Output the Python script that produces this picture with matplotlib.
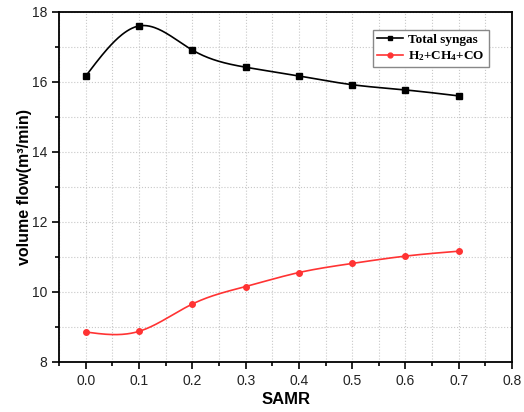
import numpy as np
import matplotlib
matplotlib.use("Agg")
import matplotlib.pyplot as plt
from matplotlib.ticker import MultipleLocator

plt.rcParams["mathtext.fontset"] = "custom"
plt.rcParams["mathtext.rm"] = "Liberation Serif:bold"
plt.rcParams["mathtext.it"] = "Liberation Serif:bold"
plt.rcParams["mathtext.bf"] = "Liberation Serif:bold"

samr = [0.0, 0.1, 0.2, 0.3, 0.4, 0.5, 0.6, 0.7]
total_syngas = [16.17, 17.60, 16.91, 16.42, 16.17, 15.92, 15.77, 15.60]
h2_ch4_co = [8.85, 8.87, 9.65, 10.15, 10.55, 10.81, 11.02, 11.16]


def smooth(x, y, n=300):
    # natural cubic spline, only for drawing the connecting line
    x = np.asarray(x, float)
    y = np.asarray(y, float)
    k = len(x)
    h = np.diff(x)
    A = np.zeros((k, k))
    b = np.zeros(k)
    A[0, 0] = A[-1, -1] = 1
    for i in range(1, k - 1):
        A[i, i - 1] = h[i - 1]
        A[i, i] = 2 * (h[i - 1] + h[i])
        A[i, i + 1] = h[i]
        b[i] = 6 * ((y[i + 1] - y[i]) / h[i] - (y[i] - y[i - 1]) / h[i - 1])
    M = np.linalg.solve(A, b)
    xs = np.linspace(x[0], x[-1], n)
    idx = np.clip(np.searchsorted(x, xs) - 1, 0, k - 2)
    x0, x1 = x[idx], x[idx + 1]
    hh = x1 - x0
    t1 = x1 - xs
    t0 = xs - x0
    ys = (M[idx] * t1 ** 3 + M[idx + 1] * t0 ** 3) / (6 * hh) \
        + (y[idx] / hh - M[idx] * hh / 6) * t1 \
        + (y[idx + 1] / hh - M[idx + 1] * hh / 6) * t0
    return xs, ys


fig = plt.figure(figsize=(5.24, 4.12), dpi=100)
ax = fig.add_axes([0.113, 0.122, 0.864, 0.849])

for yv, col, lab in [(total_syngas, "black", "Total syngas"),
                     (h2_ch4_co, "#ff3333", r"H$_2$+CH$_4$+CO")]:
    mk = "s" if col == "black" else "o"
    xs, ys = smooth(samr, yv)
    ax.plot(xs, ys, color=col, lw=1.2, zorder=3)
    ax.plot(samr, yv, ls="none", marker=mk, ms=4, color=col, zorder=4)
    ax.plot([], [], color=col, lw=1.2, marker=mk, ms=3.5, label=lab)

ax.set_xlim(-0.05, 0.8)
ax.set_ylim(8, 18)
ax.xaxis.set_major_locator(MultipleLocator(0.1))
ax.xaxis.set_minor_locator(MultipleLocator(0.05))
ax.yaxis.set_major_locator(MultipleLocator(2))
ax.yaxis.set_minor_locator(MultipleLocator(1))
ax.set_xticks(np.arange(0, 0.81, 0.1))
ax.set_xticklabels(["%.1f" % v for v in np.arange(0, 0.81, 0.1)])
ax.grid(True, which="both", ls=":", color="#c8c8c8", lw=0.8)
ax.tick_params(which="both", direction="out", top=False, right=False,
               labelsize=10, width=1.2)
ax.tick_params(which="major", length=5)
ax.tick_params(which="minor", length=3)
for lab in ax.get_xticklabels() + ax.get_yticklabels():
    lab.set_fontfamily("Liberation Sans")
    lab.set_color("#222222")
for s in ax.spines.values():
    s.set_linewidth(1.3)

ax.set_xlabel("SAMR", fontfamily="Liberation Sans", fontweight="bold",
              fontsize=12, labelpad=3)
ax.set_ylabel("volume flow(m³/min)", fontfamily="Liberation Sans",
              fontweight="bold", fontsize=11.5)
ax.yaxis.set_label_coords(-0.06, 0.5)

leg = ax.legend(loc="upper right", bbox_to_anchor=(0.949, 0.949),
                prop={"family": "Liberation Serif", "weight": "bold", "size": 9.5},
                fancybox=False, edgecolor="#888888", framealpha=1,
                handlelength=2.0, handletextpad=0.4, borderpad=0.3,
                labelspacing=0.25, borderaxespad=0)
leg.get_frame().set_linewidth(1.0)

fig.savefig("out.png", dpi=100)
